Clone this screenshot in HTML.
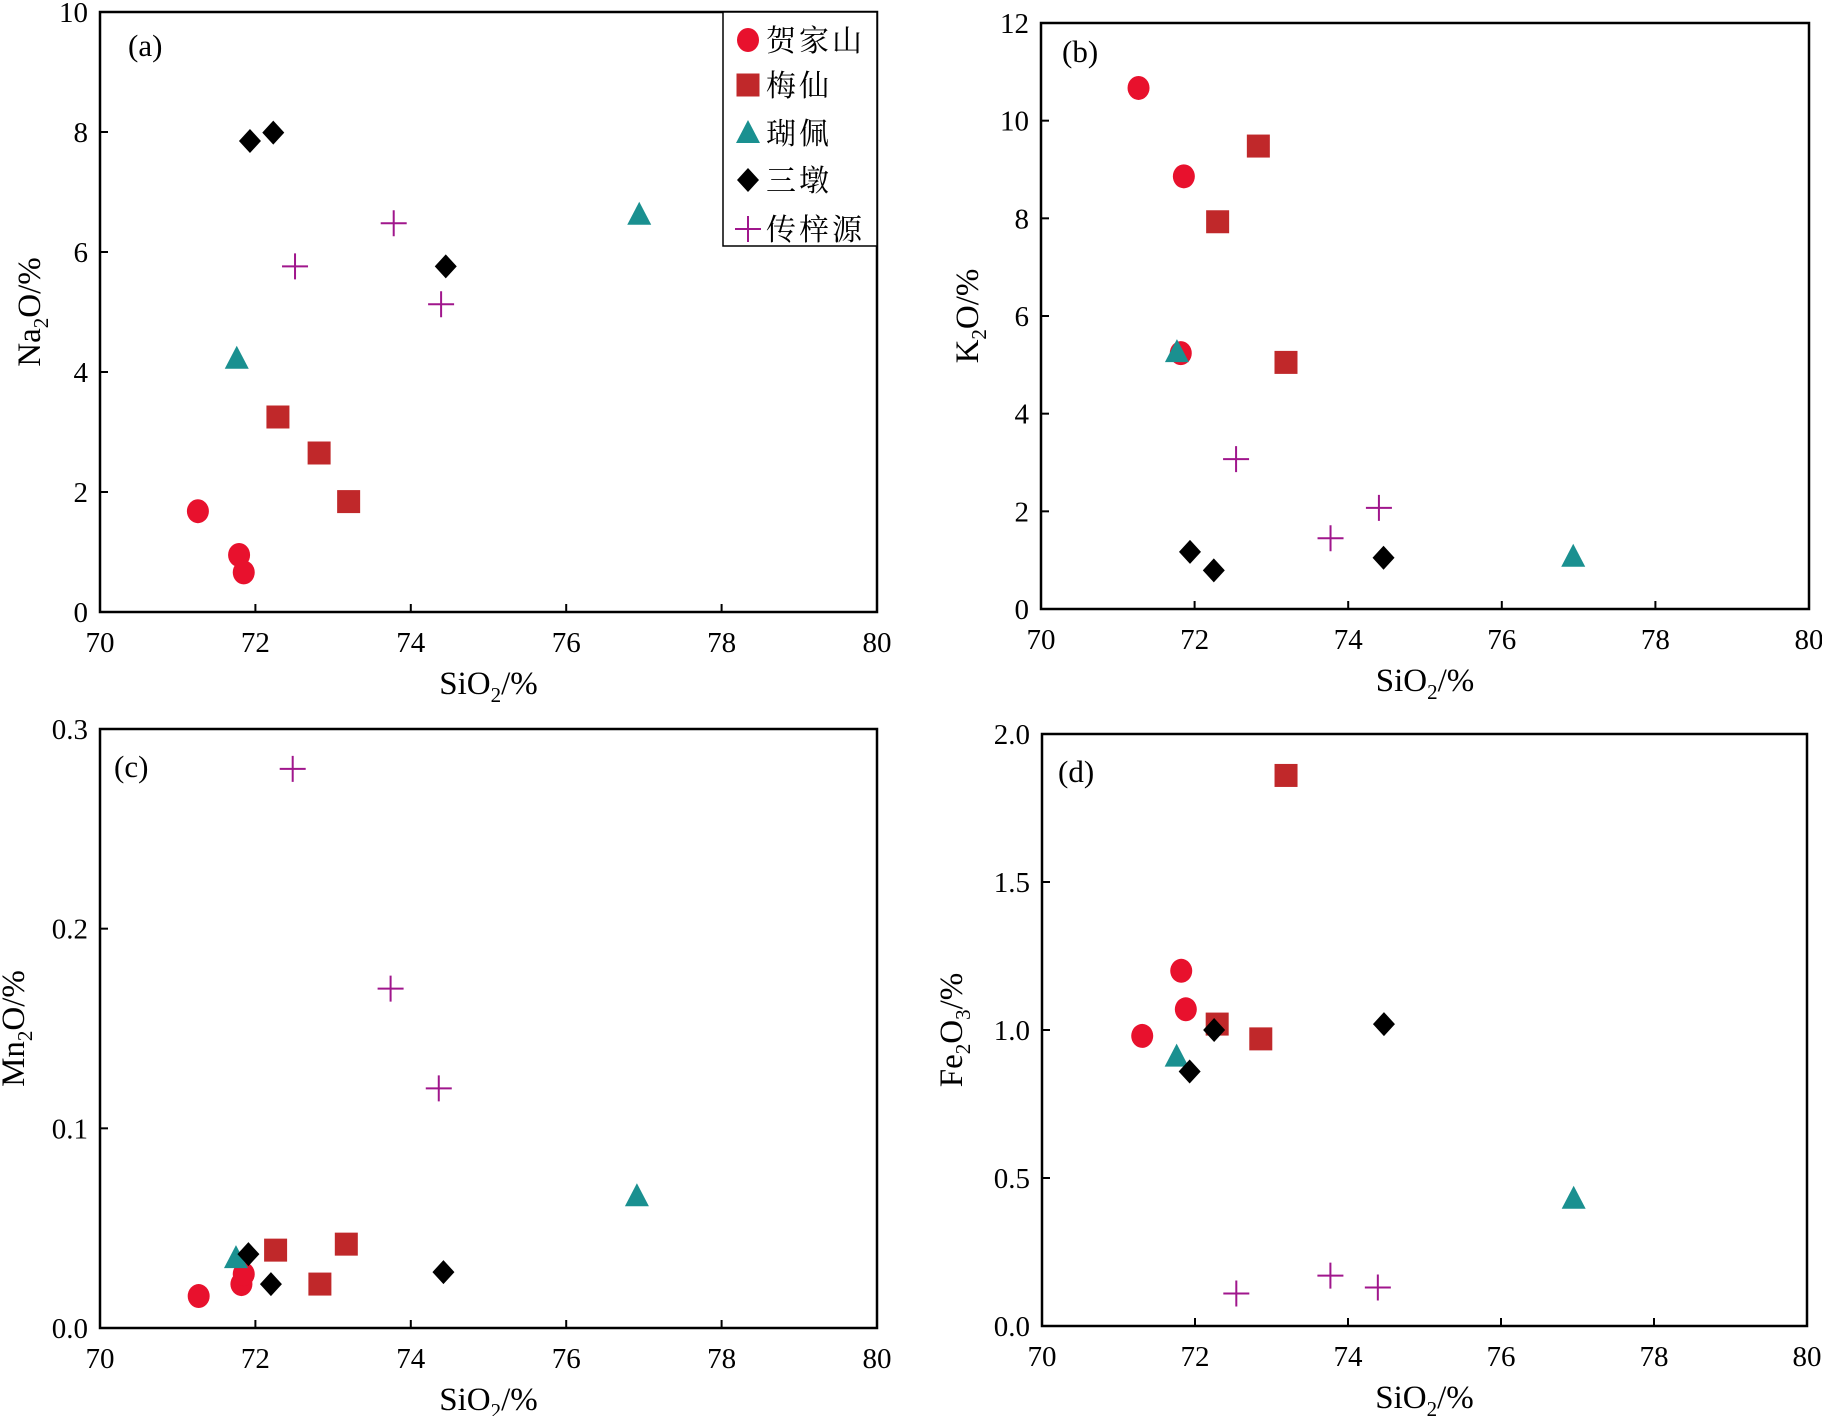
<!DOCTYPE html>
<html><head><meta charset="utf-8"><style>
html,body{margin:0;padding:0;background:#fff}
svg{display:block}
text{font-family:"Liberation Serif","Noto Serif CJK SC","Noto Sans CJK SC",serif;fill:#000}
</style></head><body>
<svg id="fig" width="1822" height="1416" viewBox="0 0 1822 1416"></svg>
<script>
const series = ["贺家山","梅仙","瑚佩","三墩","传梓源"];
const aX = [[71.26,71.79,71.85],[72.29,72.82,73.2],[71.76,76.94],[71.93,72.23,74.45],[72.51,73.78,74.39]];
const aY = [[1.68,0.95,0.66],[3.25,2.65,1.84],[4.22,6.62],[7.85,7.99,5.76],[5.76,6.48,5.13]];
const bX = [[71.27,71.86,71.82],[72.83,72.3,73.19],[71.77,76.93],[71.94,72.25,74.46],[72.54,73.77,74.4]];
const bY = [[10.67,8.86,5.24],[9.48,7.93,5.05],[5.26,1.07],[1.17,0.79,1.05],[3.07,1.45,2.07]];
const cX = [[71.27,71.82,71.85],[72.26,72.83,73.17],[71.75,76.91],[71.91,72.2,74.42],[72.48,73.74,74.36]];
const cY = [[0.016,0.022,0.027],[0.039,0.022,0.042],[0.035,0.066],[0.037,0.022,0.028],[0.28,0.17,0.12]];
const dX = [[71.31,71.82,71.88],[73.19,72.29,72.86],[71.76,76.95],[71.93,72.25,74.47],[72.54,73.77,74.39]];
const dY = [[0.98,1.20,1.07],[1.86,1.02,0.97],[0.91,0.43],[0.86,1.0,1.02],[0.11,0.17,0.13]];
const xTicks = ["70","72","74","76","78","80"];
const aTicks = ["0","2","4","6","8","10"];
const bTicks = ["0","2","4","6","8","10","12"];
const cTicks = ["0.0","0.1","0.2","0.3"];
const dTicks = ["0.0","0.5","1.0","1.5","2.0"];

const NS="http://www.w3.org/2000/svg";
const svg=document.getElementById('fig');
function mk(tag,attrs,parent){const e=document.createElementNS(NS,tag);for(const k in attrs)e.setAttribute(k,attrs[k]);(parent||svg).appendChild(e);return e;}
const colors=["#e8112d","#c0282a","#1a9090","#000000","#a0168c"];
function marker(g,t,x,y){
  let e;
  if(t===0){e=mk('ellipse',{cx:x,cy:y,rx:11,ry:12,fill:colors[0]},g);}
  else if(t===1){e=mk('rect',{x:x-11.5,y:y-11.5,width:23,height:23,fill:colors[1]},g);}
  else if(t===2){e=mk('polygon',{points:`${x},${y-13} ${x+12},${y+10} ${x-12},${y+10}`,fill:colors[2]},g);}
  else if(t===3){e=mk('polygon',{points:`${x},${y-12} ${x+11},${y} ${x},${y+12} ${x-11},${y}`,fill:colors[3]},g);}
  else {e=mk('path',{d:`M${x-13},${y}H${x+13}M${x},${y-13}V${y+13}`,stroke:colors[4],'stroke-width':2,fill:'none'},g);}
  return e;
}
function panel(id,L,R,T,B,ymax,yTicks,X,Y,titleHTML,ylabX,plabX,plabY){
  const g=mk('g',{});
  
  
  const sx=v=>L+(v-70)/10*(R-L);
  const sy=v=>B-v/ymax*(B-T);
  const frame=mk('rect',{x:L,y:T,width:R-L,height:B-T,fill:'none',stroke:'#000','stroke-width':2.5},g);
  
  
  xTicks.forEach(s=>{const v=+s;const x=sx(v);
    if(v>70&&v<80)mk('line',{x1:x,x2:x,y1:B,y2:B-8,stroke:'#000','stroke-width':2},g);
    const t=mk('text',{x:x,y:B+40,'font-size':29,'text-anchor':'middle'},g);t.textContent=s;
    
    });
  yTicks.forEach(s=>{const v=+s;const y=sy(v);
    if(v>0&&v<ymax)mk('line',{x1:L,x2:L+8,y1:y,y2:y,stroke:'#000','stroke-width':2},g);
    const t=mk('text',{x:L-12,y:y+10,'font-size':29,'text-anchor':'end'},g);t.textContent=s;
    
    });
  const xt=mk('text',{x:(L+R)/2,y:B+82,'font-size':33,'text-anchor':'middle'},g);
  xt.innerHTML='SiO<tspan font-size="21" dy="8">2</tspan><tspan dy="-8">/%</tspan>';
  
  
  const cy=(T+B)/2;
  const yt=mk('text',{x:ylabX,y:cy,'font-size':33,'text-anchor':'middle',transform:`rotate(-90 ${ylabX} ${cy})`},g);
  yt.innerHTML=titleHTML;
  
  
  const pl=mk('text',{x:plabX,y:plabY,'font-size':31},g);pl.textContent='('+id+')';
  
  
  for(let s=0;s<5;s++){for(let i=0;i<X[s].length;i++){
    const m=marker(g,s,sx(X[s][i]),sy(Y[s][i]));
    
    }}
  return g;
}
const S=(a)=>'<tspan font-size="21" dy="8">'+a+'</tspan>';
panel('a',100,877,12,612,10,aTicks,aX,aY,'Na'+S('2')+'<tspan dy="-8">O/%</tspan>',40,128,56);
panel('b',1041,1809,23,609,12,bTicks,bX,bY,'K'+S('2')+'<tspan dy="-8">O/%</tspan>',978,1062,62);
panel('c',100,877,729,1328,0.3,cTicks,cX,cY,'Mn'+S('2')+'<tspan dy="-8">O/%</tspan>',24,114,777);
panel('d',1042,1807,734,1326,2,dTicks,dX,dY,'Fe'+S('2')+'<tspan dy="-8">O</tspan>'+S('3')+'<tspan dy="-8">/%</tspan>',962,1058,782);
const lg=mk('g',{});


const lb=mk('rect',{x:723,y:12,width:154,height:234,fill:'#fff',stroke:'#000','stroke-width':1.5},lg);


const ly=[40,85,133,180,229];
series.forEach((n,i)=>{
  const m=marker(lg,i,748,ly[i]);
  
  
  const t=mk('text',{x:766,y:ly[i]+11,'font-size':30,'letter-spacing':3},lg);t.textContent=n;
  
  
});
</script>
</body></html>
